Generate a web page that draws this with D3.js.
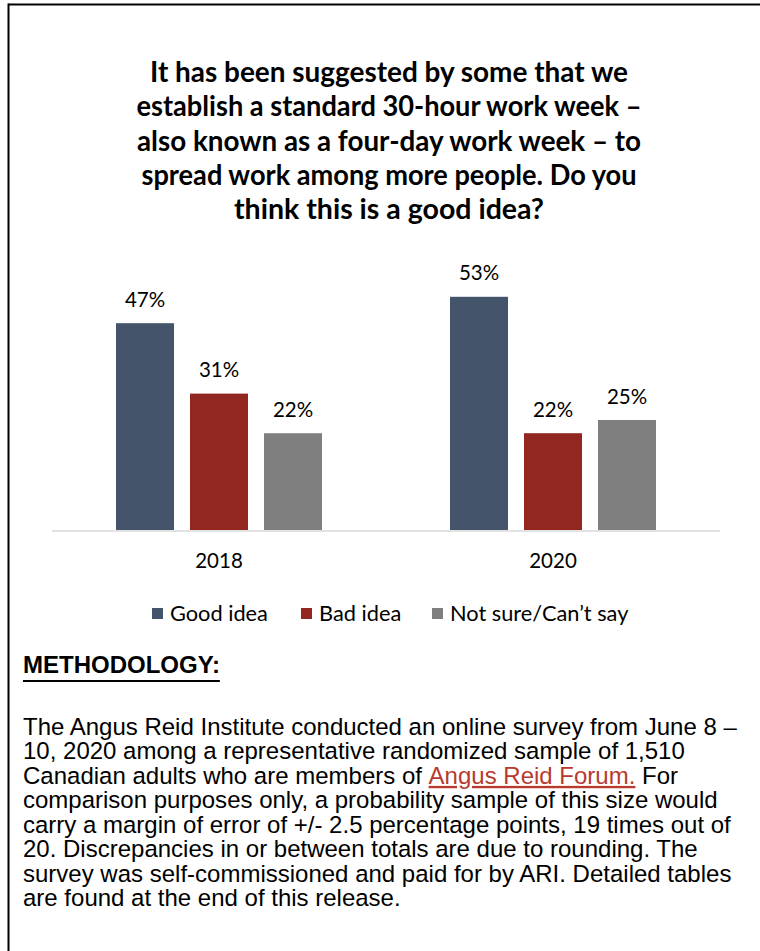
<!DOCTYPE html>
<html>
<head>
<meta charset="utf-8">
<script src="https://cdn.jsdelivr.net/npm/d3@7"></script>
<style>
  html, body { margin: 0; padding: 0; background: #fff; }
  svg { display: block; }
</style>
</head>
<body>
<svg id="chart" width="760" height="951"></svg>
<script>
// Survey question (title lines)
const titleLines = [
  "It has been suggested by some that we",
  "establish a standard 30-hour work week \u2013",
  "also known as a four-day work week \u2013  to",
  "spread work among more people. Do you",
  "think this is a good idea?"
];

// Survey waves and response categories
const years = ["2018", "2020"];
const series = ["Good idea", "Bad idea", "Not sure/Can\u2019t say"];

// Share of respondents (%) per wave, in series order
const goodIdea = [47, 53];
const badIdea = [31, 22];
const notSure = [22, 25];

const colors = ["#44546A", "#922621", "#7F7F7F"];

// Methodology note
const methodHeading = "METHODOLOGY:";
const methodLines = [
  [{t: "The Angus Reid Institute conducted an online survey from June 8 \u2013"}],
  [{t: "10, 2020 among a representative randomized sample of 1,510"}],
  [{t: "Canadian adults who are members of "}, {t: "Angus Reid Forum.", link: true}, {t: " For"}],
  [{t: "comparison purposes only, a probability sample of this size would"}],
  [{t: "carry a margin of error of +/- 2.5 percentage points, 19 times out of"}],
  [{t: "20. Discrepancies in or between totals are due to rounding. The"}],
  [{t: "survey was self-commissioned and paid for by ARI. Detailed tables"}],
  [{t: "are found at the end of this release."}]
];

const valuesBySeries = [goodIdea, badIdea, notSure];
const rows = years.map((y, i) => ({
  year: y,
  values: series.map((s, k) => ({ key: s, value: valuesBySeries[k][i], color: colors[k] }))
}));

const svg = d3.select("#chart");
const calibri = "Lato, 'Open Sans', sans-serif";
const arial = "'Liberation Sans', Arial, sans-serif";

// Scale a text selection's font so that one of its nodes spans the given width
function fitWidth(sel, size, index, width) {
  const w = sel.nodes()[index].getComputedTextLength();
  sel.attr("font-size", size * width / w);
}

// Frame: top and left rules
svg.append("line").attr("x1", 8.5).attr("x2", 760).attr("y1", 4.5).attr("y2", 4.5)
  .attr("stroke", "#000").attr("stroke-width", 2);
svg.append("line").attr("x1", 8.5).attr("x2", 8.5).attr("y1", 3.5).attr("y2", 951)
  .attr("stroke", "#000").attr("stroke-width", 2);

// Title, each line set to its column width
const titleWidths = [478, 505, 504, 495, 310];
const titleText = svg.append("g").selectAll("text").data(titleLines).join("text")
  .attr("x", 389).attr("y", (d, i) => 82 + i * 34.3)
  .attr("text-anchor", "middle")
  .attr("font-family", calibri).attr("font-weight", 700)
  .attr("font-size", 24).attr("fill", "#000")
  .text(d => d);
fitWidth(titleText, 24, 0, 478);
titleText.attr("textLength", (d, i) => titleWidths[i]).attr("lengthAdjust", "spacingAndGlyphs");

// Scales
const baseline = 530;
const x0 = d3.scaleBand().domain(years).range([52, 720]);
const x1 = d3.scaleBand().domain(series).range([-103, 103]).paddingInner(16 / 74);
const y = d3.scaleLinear().domain([0, 60]).range([baseline, baseline - 264]);

const groups = svg.append("g").selectAll("g").data(rows).join("g")
  .attr("transform", d => `translate(${x0(d.year) + x0.bandwidth() / 2},0)`);

groups.selectAll("rect").data(d => d.values).join("rect")
  .attr("x", d => x1(d.key))
  .attr("width", x1.bandwidth())
  .attr("y", d => y(d.value))
  .attr("height", d => y(0) - y(d.value))
  .attr("fill", d => d.color);

groups.selectAll("text.val").data(d => d.values).join("text")
  .attr("class", "val")
  .attr("x", d => x1(d.key) + x1.bandwidth() / 2)
  .attr("y", d => y(d.value) - 16.5)
  .attr("text-anchor", "middle")
  .attr("font-family", calibri).attr("font-size", 20.5).attr("fill", "#000")
  .text(d => d.value + "%");

// Category axis
const xAxis = svg.append("g").attr("transform", `translate(0,${baseline + 1})`)
  .call(d3.axisBottom(x0).tickSize(0).tickPadding(22));
xAxis.select(".domain").attr("stroke", "#D9D9D9").attr("stroke-width", 1.6).attr("d", "M52,0H720");
xAxis.selectAll("text").attr("font-family", calibri).attr("font-size", 20.5).attr("fill", "#000");

// Legend
const legendItems = [152, 301, 432];
const legend = svg.append("g").selectAll("g").data(series).join("g")
  .attr("transform", (d, i) => `translate(${legendItems[i]},608)`);
legend.append("rect").attr("width", 11).attr("height", 11).attr("fill", (d, i) => colors[i]);
const legendText = legend.append("text").attr("x", 18).attr("y", 13)
  .attr("font-family", calibri).attr("font-size", 21).attr("fill", "#000")
  .text(d => d);
fitWidth(legendText, 21, 0, 98);

// Methodology heading
const head = svg.append("text").attr("x", 23).attr("y", 673)
  .attr("font-family", arial).attr("font-weight", 700).attr("font-size", 21.3)
  .attr("fill", "#000").text(methodHeading);
fitWidth(head, 21.3, 0, 197);
const hw = head.node().getComputedTextLength();
svg.append("line").attr("x1", 23).attr("x2", 23 + hw).attr("y1", 681).attr("y2", 681)
  .attr("stroke", "#000").attr("stroke-width", 2);

// Methodology body, condensed to the text column
const body = svg.append("g");
const bodyText = body.selectAll("text").data(methodLines).join("text")
  .attr("x", 0).attr("y", (d, i) => 735 + i * 24.45)
  .attr("font-family", arial).attr("font-size", 23.5).attr("fill", "#000");
bodyText.selectAll("tspan").data(d => d).join("tspan")
  .attr("fill", d => d.link ? "#B83A2E" : "#000")
  .attr("text-decoration", d => d.link ? "underline" : null)
  .text(d => d.t);
{
  const w = bodyText.nodes()[0].getComputedTextLength();
  body.attr("transform", `translate(23,0) scale(${714 / w},1)`);
}
</script>
</body>
</html>
